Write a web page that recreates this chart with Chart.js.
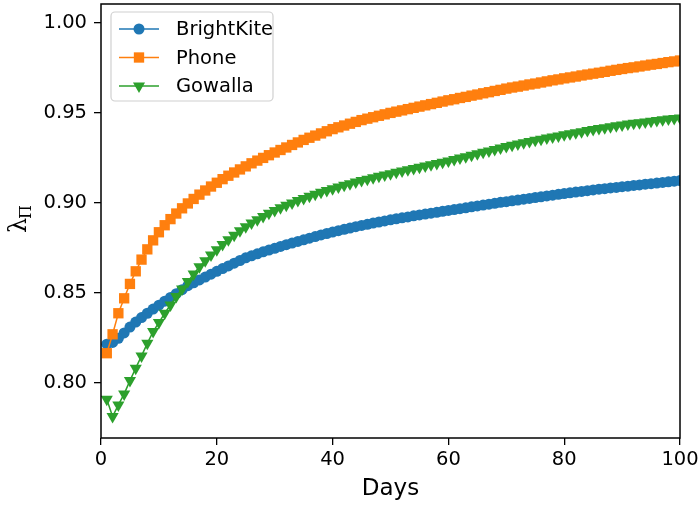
<!DOCTYPE html>
<html>
<head>
<meta charset="utf-8">
<script src="https://cdn.jsdelivr.net/npm/chart.js@4/dist/chart.umd.min.js"></script>
<style>
  html, body { margin: 0; padding: 0; background: #fff; }
  #wrap { width: 699px; height: 506px; }
</style>
</head>
<body>
<div id="wrap"><canvas id="lambdaChart"></canvas></div>
<script>
// values, one per day (days 1..100)
const brightKite = [
  0.8215, 0.8225, 0.8248, 0.8278, 0.8310, 0.8338, 0.8363, 0.8387, 0.8410, 0.8432,
  0.8454, 0.8475, 0.8496, 0.8518, 0.8540, 0.8556, 0.8572, 0.8588, 0.8604, 0.8620,
  0.8635, 0.8650, 0.8665, 0.8680, 0.8695, 0.8706, 0.8717, 0.8728, 0.8738, 0.8748,
  0.8758, 0.8768, 0.8777, 0.8786, 0.8795, 0.8804, 0.8813, 0.8822, 0.8830, 0.8838,
  0.8846, 0.8853, 0.8860, 0.8868, 0.8875, 0.8881, 0.8888, 0.8894, 0.8900, 0.8906,
  0.8912, 0.8917, 0.8922, 0.8928, 0.8933, 0.8938, 0.8943, 0.8948, 0.8953, 0.8958,
  0.8963, 0.8968, 0.8973, 0.8978, 0.8983, 0.8988, 0.8993, 0.8998, 0.9003, 0.9007,
  0.9012, 0.9016, 0.9021, 0.9025, 0.9030, 0.9034, 0.9039, 0.9043, 0.9048, 0.9052,
  0.9056, 0.9060, 0.9064, 0.9068, 0.9072, 0.9076, 0.9079, 0.9083, 0.9086, 0.9090,
  0.9093, 0.9097, 0.9100, 0.9104, 0.9107, 0.9110, 0.9114, 0.9117, 0.9121, 0.9124
];
const phone = [
  0.8165, 0.8270, 0.8387, 0.8470, 0.8550, 0.8620, 0.8685, 0.8742, 0.8792, 0.8837,
  0.8876, 0.8910, 0.8941, 0.8970, 0.8997, 0.9022, 0.9046, 0.9069, 0.9091, 0.9112,
  0.9132, 0.9151, 0.9169, 0.9186, 0.9203, 0.9220, 0.9235, 0.9250, 0.9265, 0.9280,
  0.9294, 0.9308, 0.9322, 0.9336, 0.9350, 0.9362, 0.9374, 0.9386, 0.9398, 0.9410,
  0.9420, 0.9430, 0.9440, 0.9450, 0.9460, 0.9468, 0.9476, 0.9484, 0.9492, 0.9500,
  0.9507, 0.9514, 0.9521, 0.9528, 0.9535, 0.9542, 0.9549, 0.9556, 0.9563, 0.9570,
  0.9576, 0.9583, 0.9589, 0.9596, 0.9602, 0.9609, 0.9615, 0.9622, 0.9628, 0.9635,
  0.9641, 0.9646, 0.9652, 0.9658, 0.9663, 0.9669, 0.9675, 0.9681, 0.9686, 0.9692,
  0.9697, 0.9702, 0.9708, 0.9713, 0.9718, 0.9723, 0.9728, 0.9734, 0.9739, 0.9744,
  0.9749, 0.9753, 0.9758, 0.9763, 0.9768, 0.9772, 0.9777, 0.9782, 0.9786, 0.9791
];
const gowalla = [
  0.7909, 0.7813, 0.7878, 0.7939, 0.8013, 0.8082, 0.8150, 0.8220, 0.8285, 0.8335,
  0.8387, 0.8433, 0.8480, 0.8522, 0.8563, 0.8605, 0.8645, 0.8678, 0.8710, 0.8740,
  0.8769, 0.8796, 0.8821, 0.8845, 0.8867, 0.8888, 0.8907, 0.8925, 0.8942, 0.8958,
  0.8973, 0.8987, 0.9000, 0.9013, 0.9025, 0.9037, 0.9048, 0.9059, 0.9069, 0.9079,
  0.9089, 0.9098, 0.9107, 0.9116, 0.9124, 0.9132, 0.9140, 0.9148, 0.9155, 0.9162,
  0.9170, 0.9177, 0.9184, 0.9191, 0.9198, 0.9205, 0.9212, 0.9219, 0.9226, 0.9233,
  0.9241, 0.9249, 0.9257, 0.9265, 0.9273, 0.9281, 0.9289, 0.9297, 0.9305, 0.9313,
  0.9320, 0.9327, 0.9334, 0.9341, 0.9348, 0.9354, 0.9360, 0.9366, 0.9372, 0.9378,
  0.9384, 0.9390, 0.9396, 0.9402, 0.9408, 0.9413, 0.9418, 0.9423, 0.9428, 0.9433,
  0.9438, 0.9442, 0.9446, 0.9450, 0.9454, 0.9458, 0.9462, 0.9466, 0.9469, 0.9472
];
const days = brightKite.map((_, i) => i + 1);
const yTicks = [0.80, 0.85, 0.90, 0.95, 1.00];
const xTicks = [0, 20, 40, 60, 80, 100];

const FONT = "'DejaVu Sans', sans-serif";
const toPoints = vals => vals.map((v, i) => ({ x: days[i], y: v }));

// full box around the plot + the y label with its subscript
const framePlugin = {
    id: "frame",
    afterDraw(chart) {
        const { ctx, chartArea: a } = chart;
        ctx.save();
        ctx.strokeStyle = "#000";
        ctx.lineWidth = 1.5;
        ctx.strokeRect(a.left, a.top, a.right - a.left, a.bottom - a.top);

        ctx.translate(20, (a.top + a.bottom) / 2);
        ctx.rotate(-Math.PI / 2);
        ctx.fillStyle = "#000";
        ctx.textBaseline = "alphabetic";
        ctx.font = "24px 'DejaVu Serif', serif";
        ctx.fillText("λ", -12, 6);
        ctx.font = "16px 'DejaVu Serif', serif";
        ctx.fillText("Π", 2, 11);
        ctx.restore();
    }
};

// matplotlib style legend: line through the marker
const legendPlugin = {
    id: "mplLegend",
    afterDraw(chart) {
        const { ctx } = chart;
        const box = { x: 111, y: 12, w: 162, h: 89 };
        ctx.save();
        ctx.fillStyle = "rgba(255,255,255,0.8)";
        ctx.strokeStyle = "#d0d0d0";
        ctx.lineWidth = 1.2;
        ctx.beginPath();
        ctx.roundRect(box.x, box.y, box.w, box.h, 4);
        ctx.fill();
        ctx.stroke();
        chart.data.datasets.forEach((ds, i) => {
            const y = 29 + i * 28.5;
            ctx.strokeStyle = ds.borderColor;
            ctx.lineWidth = 1.5;
            ctx.beginPath();
            ctx.moveTo(119, y);
            ctx.lineTo(159, y);
            ctx.stroke();
            ctx.fillStyle = ds.backgroundColor;
            Chart.helpers.drawPoint(ctx, {
                pointStyle: ds.pointStyle,
                radius: ds.pointRadius,
                rotation: ds.pointRotation || 0,
                borderWidth: 0
            }, 139, y);
            ctx.fillStyle = "#000";
            ctx.font = "19.5px " + FONT;
            ctx.textBaseline = "middle";
            ctx.fillText(ds.label, 176, y + 1);
        });
        ctx.restore();
    }
};

new Chart(document.getElementById("lambdaChart"), {
    type: "line",
    data: {
        datasets: [
            {
                label: "BrightKite",
                data: toPoints(brightKite),
                borderColor: "#1f77b4",
                backgroundColor: "#1f77b4",
                borderWidth: 1.5,
                pointStyle: "circle",
                pointRadius: 5.5,
                pointBorderWidth: 0,
                order: 2
            },
            {
                label: "Phone",
                data: toPoints(phone),
                borderColor: "#ff7f0e",
                backgroundColor: "#ff7f0e",
                borderWidth: 1.5,
                pointStyle: "rect",
                pointRadius: 7.3,
                pointBorderWidth: 0,
                order: 1
            },
            {
                label: "Gowalla",
                data: toPoints(gowalla),
                borderColor: "#2ca02c",
                backgroundColor: "#2ca02c",
                borderWidth: 1.5,
                pointStyle: "triangle",
                pointRotation: 180,
                pointRadius: 7,
                pointBorderWidth: 0,
                order: 0
            }
        ]
    },
    options: {
        responsive: true,
        maintainAspectRatio: false,
        animation: false,
        layout: { autoPadding: false, padding: { top: 4, right: 19, bottom: 0, left: 0 } },
        plugins: {
            legend: { display: false },
            tooltip: { enabled: false }
        },
        scales: {
            x: {
                type: "linear",
                min: 0,
                max: 100,
                afterBuildTicks: s => { s.ticks = xTicks.map(v => ({ value: v })); },
                afterFit: s => { s.height = 68; s.paddingLeft = 0; s.paddingRight = 0; },
                grid: { drawOnChartArea: false, drawTicks: true, tickLength: 7, color: "#000", lineWidth: 1.3 },
                border: { display: false },
                ticks: { color: "#000", font: { family: FONT, size: 19.5 }, padding: 3, maxRotation: 0 },
                title: { display: true, text: "Days", color: "#000", font: { family: FONT, size: 23 }, padding: 3 }
            },
            y: {
                min: 0.7694,
                max: 1.0105,
                afterBuildTicks: s => { s.ticks = yTicks.map(v => ({ value: v })); },
                afterFit: s => { s.width = 101; s.paddingTop = 0; s.paddingBottom = 0; },
                grid: { drawOnChartArea: false, drawTicks: true, tickLength: 7, color: "#000", lineWidth: 1.3 },
                border: { display: false },
                ticks: {
                    color: "#000",
                    font: { family: FONT, size: 19.5 },
                    padding: 7,
                    callback: v => v.toFixed(2)
                }
            }
        }
    },
    plugins: [framePlugin, legendPlugin]
});
</script>
</body>
</html>
